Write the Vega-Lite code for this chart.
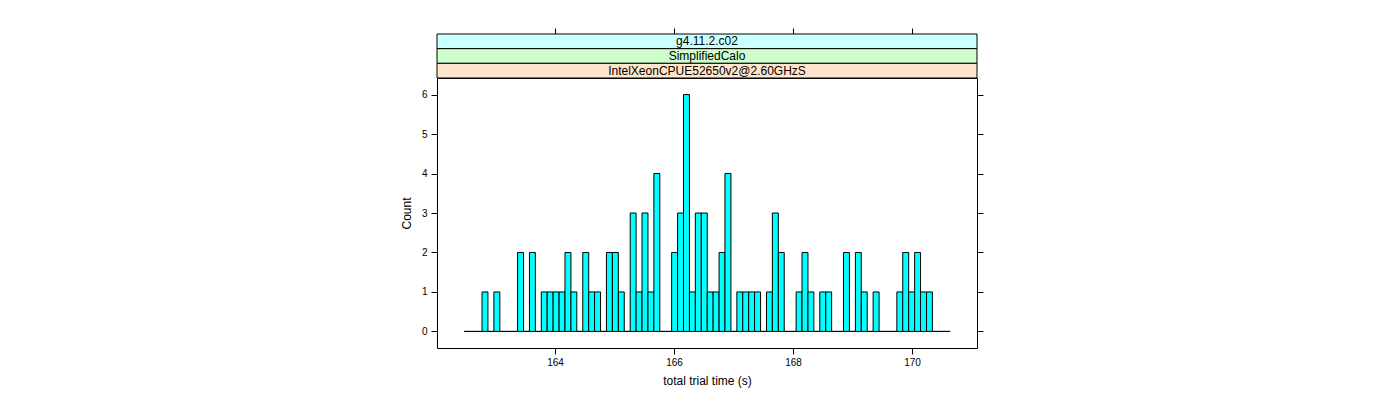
{
  "$schema": "https://vega.github.io/schema/vega-lite/v6.json",
  "autosize": {"type": "none"},
  "padding": {"left": 437, "top": 78, "right": 423, "bottom": 52},
  "width": 540,
  "height": 270,
  "background": "white",
  "config": {
    "view": {"stroke": "#000000", "strokeWidth": 1},
    "font": "Liberation Sans",
    "axis": {
      "labelFont": "Liberation Sans",
      "titleFont": "Liberation Sans",
      "labelFontSize": 10,
      "titleFontSize": 12,
      "titleFontWeight": "normal",
      "labelColor": "#000000",
      "titleColor": "#000000",
      "tickColor": "#000000",
      "tickSize": 6,
      "domain": false,
      "grid": false
    }
  },
  "datasets": {
    "hist": [
      {"x0": 162.475, "x1": 162.575, "count": 0},
      {"x0": 162.575, "x1": 162.674, "count": 0},
      {"x0": 162.674, "x1": 162.774, "count": 0},
      {"x0": 162.774, "x1": 162.873, "count": 1},
      {"x0": 162.873, "x1": 162.973, "count": 0},
      {"x0": 162.973, "x1": 163.073, "count": 1},
      {"x0": 163.073, "x1": 163.172, "count": 0},
      {"x0": 163.172, "x1": 163.272, "count": 0},
      {"x0": 163.272, "x1": 163.371, "count": 0},
      {"x0": 163.371, "x1": 163.471, "count": 2},
      {"x0": 163.471, "x1": 163.571, "count": 0},
      {"x0": 163.571, "x1": 163.670, "count": 2},
      {"x0": 163.670, "x1": 163.770, "count": 0},
      {"x0": 163.770, "x1": 163.869, "count": 1},
      {"x0": 163.869, "x1": 163.969, "count": 1},
      {"x0": 163.969, "x1": 164.069, "count": 1},
      {"x0": 164.069, "x1": 164.168, "count": 1},
      {"x0": 164.168, "x1": 164.268, "count": 2},
      {"x0": 164.268, "x1": 164.367, "count": 1},
      {"x0": 164.367, "x1": 164.467, "count": 0},
      {"x0": 164.467, "x1": 164.567, "count": 2},
      {"x0": 164.567, "x1": 164.666, "count": 1},
      {"x0": 164.666, "x1": 164.766, "count": 1},
      {"x0": 164.766, "x1": 164.865, "count": 0},
      {"x0": 164.865, "x1": 164.965, "count": 2},
      {"x0": 164.965, "x1": 165.065, "count": 2},
      {"x0": 165.065, "x1": 165.164, "count": 1},
      {"x0": 165.164, "x1": 165.264, "count": 0},
      {"x0": 165.264, "x1": 165.363, "count": 3},
      {"x0": 165.363, "x1": 165.463, "count": 1},
      {"x0": 165.463, "x1": 165.563, "count": 3},
      {"x0": 165.563, "x1": 165.662, "count": 1},
      {"x0": 165.662, "x1": 165.762, "count": 4},
      {"x0": 165.762, "x1": 165.861, "count": 0},
      {"x0": 165.861, "x1": 165.961, "count": 0},
      {"x0": 165.961, "x1": 166.061, "count": 2},
      {"x0": 166.061, "x1": 166.160, "count": 3},
      {"x0": 166.160, "x1": 166.260, "count": 6},
      {"x0": 166.260, "x1": 166.359, "count": 1},
      {"x0": 166.359, "x1": 166.459, "count": 3},
      {"x0": 166.459, "x1": 166.559, "count": 3},
      {"x0": 166.559, "x1": 166.658, "count": 1},
      {"x0": 166.658, "x1": 166.758, "count": 1},
      {"x0": 166.758, "x1": 166.857, "count": 2},
      {"x0": 166.857, "x1": 166.957, "count": 4},
      {"x0": 166.957, "x1": 167.057, "count": 0},
      {"x0": 167.057, "x1": 167.156, "count": 1},
      {"x0": 167.156, "x1": 167.256, "count": 1},
      {"x0": 167.256, "x1": 167.355, "count": 1},
      {"x0": 167.355, "x1": 167.455, "count": 1},
      {"x0": 167.455, "x1": 167.555, "count": 0},
      {"x0": 167.555, "x1": 167.654, "count": 1},
      {"x0": 167.654, "x1": 167.754, "count": 3},
      {"x0": 167.754, "x1": 167.853, "count": 2},
      {"x0": 167.853, "x1": 167.953, "count": 0},
      {"x0": 167.953, "x1": 168.053, "count": 0},
      {"x0": 168.053, "x1": 168.152, "count": 1},
      {"x0": 168.152, "x1": 168.252, "count": 2},
      {"x0": 168.252, "x1": 168.351, "count": 1},
      {"x0": 168.351, "x1": 168.451, "count": 0},
      {"x0": 168.451, "x1": 168.551, "count": 1},
      {"x0": 168.551, "x1": 168.650, "count": 1},
      {"x0": 168.650, "x1": 168.750, "count": 0},
      {"x0": 168.750, "x1": 168.849, "count": 0},
      {"x0": 168.849, "x1": 168.949, "count": 2},
      {"x0": 168.949, "x1": 169.049, "count": 0},
      {"x0": 169.049, "x1": 169.148, "count": 2},
      {"x0": 169.148, "x1": 169.248, "count": 1},
      {"x0": 169.248, "x1": 169.347, "count": 0},
      {"x0": 169.347, "x1": 169.447, "count": 1},
      {"x0": 169.447, "x1": 169.547, "count": 0},
      {"x0": 169.547, "x1": 169.646, "count": 0},
      {"x0": 169.646, "x1": 169.746, "count": 0},
      {"x0": 169.746, "x1": 169.845, "count": 1},
      {"x0": 169.845, "x1": 169.945, "count": 2},
      {"x0": 169.945, "x1": 170.045, "count": 1},
      {"x0": 170.045, "x1": 170.144, "count": 2},
      {"x0": 170.144, "x1": 170.244, "count": 1},
      {"x0": 170.244, "x1": 170.343, "count": 1},
      {"x0": 170.343, "x1": 170.443, "count": 0},
      {"x0": 170.443, "x1": 170.543, "count": 0},
      {"x0": 170.543, "x1": 170.642, "count": 0}
    ],
    "strips": [
      {"label": "g4.11.2.c02"},
      {"label": "SimplifiedCalo"},
      {"label": "IntelXeonCPUE52650v2@2.60GHzS"}
    ]
  },
  "resolve": {
    "scale": {"y": "independent"},
    "axis": {"x": "independent", "y": "independent"}
  },
  "layer": [
    {
      "data": {"name": "hist"},
      "mark": {"type": "rect", "fill": "#00FFFF", "stroke": "#000000", "strokeWidth": 1},
      "encoding": {
        "x": {
          "field": "x0", "type": "quantitative",
          "scale": {"domain": [162.017, 171.093], "nice": false, "zero": false},
          "axis": {"orient": "bottom", "values": [164, 166, 168, 170], "title": "total trial time (s)", "labelPadding": 3, "titlePadding": 8}
        },
        "x2": {"field": "x1"},
        "y": {
          "field": "count", "type": "quantitative",
          "scale": {"domain": [-0.42, 6.42], "nice": false, "zero": false},
          "axis": {"orient": "left", "values": [0, 1, 2, 3, 4, 5, 6], "title": "Count", "labelPadding": 4, "titlePadding": 8}
        },
        "y2": {"datum": 0}
      }
    },
    {
      "data": {"name": "hist"},
      "mark": {"type": "point", "opacity": 0},
      "encoding": {
        "x": {
          "field": "x0", "type": "quantitative",
          "scale": {"domain": [162.017, 171.093], "nice": false, "zero": false},
          "axis": null
        },
        "y": {
          "field": "count", "type": "quantitative",
          "scale": {"domain": [-0.42, 6.42], "nice": false, "zero": false},
          "axis": {"orient": "right", "values": [0, 1, 2, 3, 4, 5, 6], "labels": false, "title": null}
        }
      }
    },
    {
      "data": {"name": "strips"},
      "mark": {"type": "rect", "stroke": "#000000", "strokeWidth": 1, "clip": false},
      "encoding": {
        "x": {"value": 0},
        "x2": {"value": "width"},
        "y": {
          "field": "label", "type": "nominal",
          "scale": {"type": "band", "domain": ["g4.11.2.c02", "SimplifiedCalo", "IntelXeonCPUE52650v2@2.60GHzS"], "range": [-44, 0], "paddingInner": 0, "paddingOuter": 0},
          "axis": null
        },
        "fill": {
          "field": "label", "type": "nominal",
          "scale": {"domain": ["g4.11.2.c02", "SimplifiedCalo", "IntelXeonCPUE52650v2@2.60GHzS"], "range": ["#CCFFFF", "#CCFFCC", "#FFE5CC"]},
          "legend": null
        }
      }
    },
    {
      "data": {"name": "strips"},
      "mark": {"type": "text", "font": "Liberation Sans", "fontSize": 12, "color": "#000000", "baseline": "middle", "align": "center", "clip": false},
      "encoding": {
        "x": {
          "datum": 166.555, "type": "quantitative",
          "scale": {"domain": [162.017, 171.093], "nice": false, "zero": false},
          "axis": {"orient": "top", "values": [164, 166, 168, 170], "labels": false, "title": null, "offset": 44}
        },
        "y": {
          "field": "label", "type": "nominal",
          "scale": {"type": "band", "domain": ["g4.11.2.c02", "SimplifiedCalo", "IntelXeonCPUE52650v2@2.60GHzS"], "range": [-44, 0], "paddingInner": 0, "paddingOuter": 0},
          "axis": null
        },
        "text": {"field": "label"}
      }
    }
  ]
}
